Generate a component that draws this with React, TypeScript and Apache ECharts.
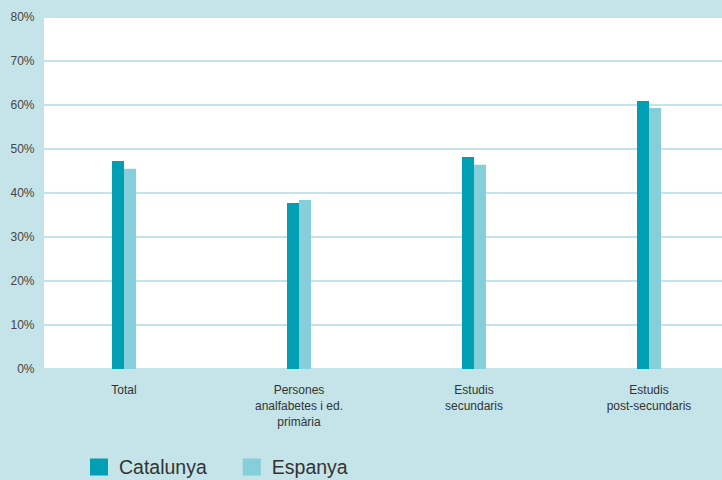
import React, { useEffect, useRef } from "react";
import * as echarts from "echarts";

const categories = ["Total", "Persones\nanalfabetes i ed.\nprimària", "Estudis\nsecundaris", "Estudis\npost-secundaris"];
const catalunya = [47.3, 37.7, 48.2, 60.9];
const espanya = [45.5, 38.4, 46.4, 59.3];
const seriesNames = ["Catalunya", "Espanya"];

const FONT = "'Liberation Sans', Arial, Helvetica, sans-serif";

export default function App() {
  const ref = useRef<HTMLDivElement>(null);
  useEffect(() => {
    document.body.style.margin = "0";
    const chart = echarts.init(ref.current!, null, { renderer: "svg" });
    chart.setOption({
      animation: false,
      backgroundColor: "#c4e4e9",
      textStyle: { fontFamily: FONT },
      graphic: [
        {
          type: "rect",
          z: -10,
          shape: { x: 44, y: 17, width: 700, height: 352 },
          style: { fill: "#ffffff" },
          silent: true,
        },
      ],
      grid: { left: 36.5, top: 17, width: 700, height: 352 },
      legend: {
        left: 90,
        top: 457,
        padding: 0,
        itemWidth: 18,
        itemHeight: 17,
        itemGap: 36,
        icon: "rect",
        textStyle: { fontSize: 19.5, color: "#333333", fontFamily: FONT, padding: [0, 0, 0, 6] },
        data: seriesNames,
      },
      xAxis: {
        type: "category",
        data: categories,
        axisLine: { show: false },
        axisTick: { show: false },
        axisLabel: {
          margin: 13,
          fontSize: 12,
          lineHeight: 16,
          color: "#333333",
          fontFamily: FONT,
          interval: 0,
        },
      },
      yAxis: {
        type: "value",
        min: 0,
        max: 80,
        interval: 10,
        axisLine: { show: false },
        axisTick: { show: false },
        axisLabel: {
          margin: 2,
          fontSize: 12,
          color: "#444444",
          fontFamily: FONT,
          formatter: "{value}%",
        },
        splitLine: { lineStyle: { color: "#c4e4e9", width: 2 } },
      },
      series: [
        {
          name: seriesNames[0],
          type: "bar",
          data: catalunya,
          barWidth: 12,
          barGap: "0%",
          itemStyle: { color: "#009fb4" },
        },
        {
          name: seriesNames[1],
          type: "bar",
          data: espanya,
          barWidth: 12,
          barGap: "0%",
          itemStyle: { color: "#84cfd9" },
        },
      ],
    });
    return () => chart.dispose();
  }, []);
  return (
    <div style={{ width: 722, height: 480, overflow: "hidden", position: "relative" }}>
      <div ref={ref} style={{ width: 750, height: 480 }} />
    </div>
  );
}
